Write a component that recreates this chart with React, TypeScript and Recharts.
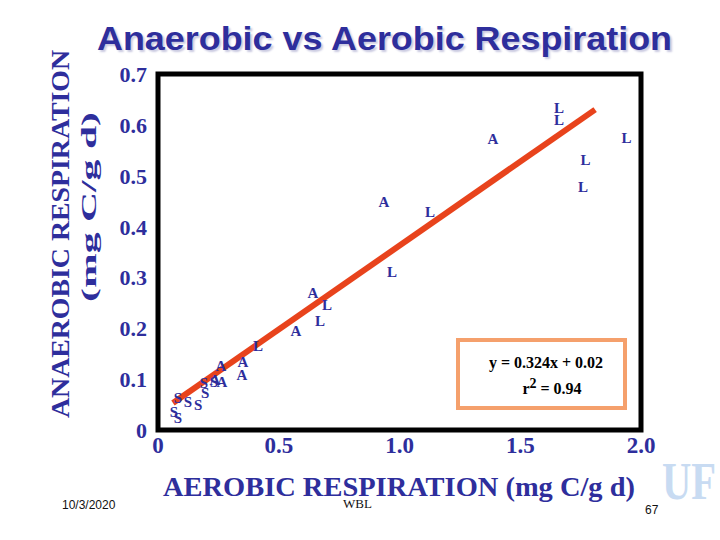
import { ReferenceArea, ReferenceLine, Scatter, ScatterChart, XAxis, YAxis } from "recharts";

// points, grouped by the letter they were plotted with
const sPoints = [
  { x: 0.066, y: 0.035 },
  { x: 0.083, y: 0.024 },
  { x: 0.083, y: 0.063 },
  { x: 0.124, y: 0.055 },
  { x: 0.166, y: 0.049 },
  { x: 0.19, y: 0.092 },
  { x: 0.195, y: 0.073 },
  { x: 0.232, y: 0.094 },
];
const aPoints = [
  { x: 0.236, y: 0.098 },
  { x: 0.261, y: 0.126 },
  { x: 0.265, y: 0.094 },
  { x: 0.348, y: 0.108 },
  { x: 0.352, y: 0.134 },
  { x: 0.571, y: 0.195 },
  { x: 0.642, y: 0.27 },
  { x: 0.936, y: 0.449 },
  { x: 1.387, y: 0.573 },
];
const lPoints = [
  { x: 0.414, y: 0.165 },
  { x: 0.671, y: 0.215 },
  { x: 0.7, y: 0.246 },
  { x: 0.969, y: 0.311 },
  { x: 1.126, y: 0.429 },
  { x: 1.66, y: 0.61 },
  { x: 1.66, y: 0.634 },
  { x: 1.76, y: 0.478 },
  { x: 1.77, y: 0.531 },
  { x: 1.94, y: 0.575 },
];
const fitLine = [
  { x: 0.062, y: 0.053 },
  { x: 1.81, y: 0.63 },
];
const xTicks = [0, 0.5, 1, 1.5, 2];
const xTickLabels = ["0", "0.5", "1.0", "1.5", "2.0"];
const yTicks = [0, 0.1, 0.2, 0.3, 0.4, 0.5, 0.6, 0.7];
const yTickLabels = ["0", "0.1", "0.2", "0.3", "0.4", "0.5", "0.6", "0.7"];

const BLUE = "#2E2E9C";
const SERIF = "'Liberation Serif', 'Times New Roman', serif";
const SANS = "'Liberation Sans', Arial, sans-serif";

const letterShape = (letter: string) => (props: any) => (
  <text
    x={props.cx}
    y={props.cy}
    textAnchor="middle"
    dominantBaseline="central"
    fontFamily={SERIF}
    fontWeight="bold"
    fontSize={15}
    fill={BLUE}
  >
    {letter}
  </text>
);

const XTick = (props: any) => {
  const i = xTicks.indexOf(props.payload.value);
  return (
    <text x={props.x} y={453} textAnchor="middle" fontFamily={SERIF} fontWeight="bold" fontSize={23} fill={BLUE}>
      {xTickLabels[i]}
    </text>
  );
};

const YTick = (props: any) => {
  const i = yTicks.findIndex((t) => Math.abs(t - props.payload.value) < 1e-6);
  return (
    <text x={147} y={props.y + 8} textAnchor="end" fontFamily={SERIF} fontWeight="bold" fontSize={22} fill={BLUE}>
      {yTickLabels[i]}
    </text>
  );
};

export default function App() {
  return (
    <div style={{ position: "absolute", left: 0, top: 0, width: 720, height: 540, background: "#fff" }}>
      <ScatterChart width={720} height={540} margin={{ top: 74, right: 79, left: 0, bottom: 0 }}>
        <XAxis
          type="number"
          dataKey="x"
          domain={[0, 2]}
          ticks={xTicks}
          height={110}
          axisLine={false}
          tickLine={false}
          tick={<XTick />}
        />
        <YAxis
          type="number"
          dataKey="y"
          domain={[0, 0.7]}
          ticks={yTicks}
          width={158}
          axisLine={false}
          tickLine={false}
          tick={<YTick />}
        />
        <ReferenceArea x1={0} x2={2} y1={0} y2={0.7} fill="none" stroke="#000" strokeWidth={5} />
        <ReferenceLine
          segment={[fitLine[0], fitLine[1]]}
          stroke="#E8431C"
          strokeWidth={6}
        />
        <Scatter data={sPoints} shape={letterShape("S")} isAnimationActive={false} />
        <Scatter data={aPoints} shape={letterShape("A")} isAnimationActive={false} />
        <Scatter data={lPoints} shape={letterShape("L")} isAnimationActive={false} />
      </ScatterChart>

      <svg width={720} height={540} style={{ position: "absolute", left: 0, top: 0, pointerEvents: "none" }}>
        <text
          x={97}
          y={50}
          textLength={575}
          lengthAdjust="spacingAndGlyphs"
          fontFamily={SANS}
          fontWeight="bold"
          fontSize={34}
          fill={BLUE}
          style={{ textShadow: "2px 2px 2px #c9c9e0" }}
        >
          Anaerobic vs Aerobic Respiration
        </text>
        <text
          transform="translate(69, 418) rotate(-90)"
          textLength={368}
          lengthAdjust="spacingAndGlyphs"
          fontFamily={SERIF}
          fontWeight="bold"
          fontSize={26}
          fill={BLUE}
        >
          ANAEROBIC RESPIRATION
        </text>
        <text
          transform="translate(96, 302) rotate(-90)"
          textLength={190}
          lengthAdjust="spacingAndGlyphs"
          fontFamily={SERIF}
          fontWeight="bold"
          fontSize={22}
          fill={BLUE}
        >
          (mg C/g  d)
        </text>
        <text
          x={163}
          y={496}
          textLength={472}
          lengthAdjust="spacingAndGlyphs"
          fontFamily={SERIF}
          fontWeight="bold"
          fontSize={28}
          fill={BLUE}
        >
          AEROBIC RESPIRATION (mg C/g  d)
        </text>
        <text
          x={662}
          y={499}
          textLength={54}
          lengthAdjust="spacingAndGlyphs"
          fontFamily={SERIF}
          fontWeight="bold"
          fontSize={52}
          fill="#C8DBF2"
        >
          UF
        </text>
        <text x={62} y={509} fontFamily={SANS} fontSize={12} fill="#111">
          10/3/2020
        </text>
        <text x={343} y={508} fontFamily={SERIF} fontSize={13} fill="#111">
          WBL
        </text>
        <text x={645} y={514} fontFamily={SANS} fontSize={12} fill="#111">
          67
        </text>
        <rect x={458} y={340} width={167} height={68} fill="#fff" stroke="#F5A06C" strokeWidth={4} />
        <text x={546} y={368} textAnchor="middle" fontFamily={SERIF} fontWeight="bold" fontSize={16} fill="#000">
          y = 0.324x + 0.02
        </text>
        <text x={552} y={394} textAnchor="middle" fontFamily={SERIF} fontWeight="bold" fontSize={16} fill="#000">
          r<tspan dy={-6} fontSize={14}>2</tspan>
          <tspan dy={6}> = 0.94</tspan>
        </text>
      </svg>
    </div>
  );
}
